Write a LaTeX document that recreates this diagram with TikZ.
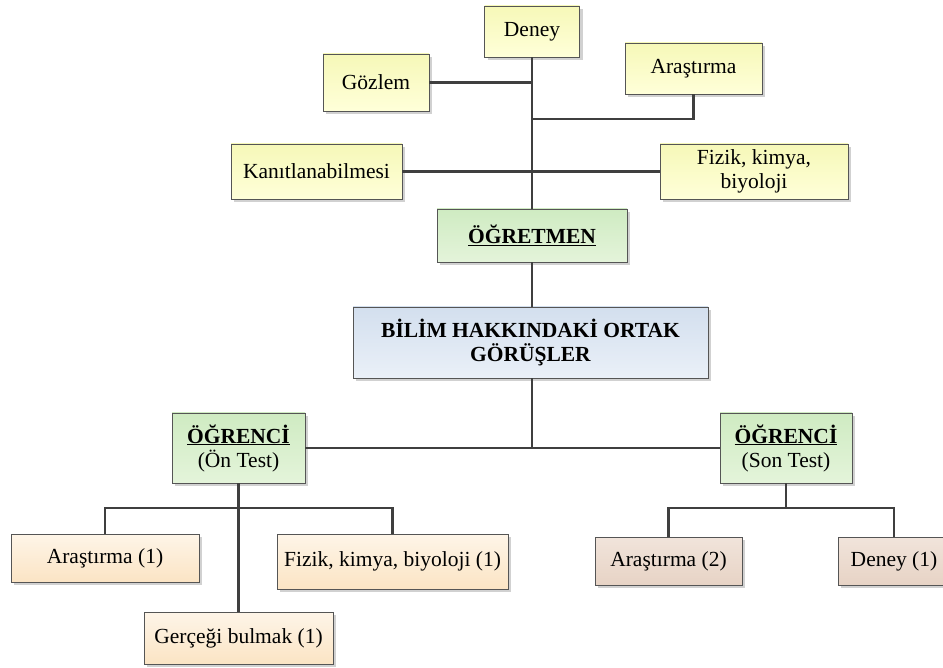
\documentclass[tikz,border=0pt]{standalone}
\usepackage{fontspec}
\setmainfont{Liberation Serif}
\usetikzlibrary{shadows}

\definecolor{linegray}{HTML}{3F3F3F}
\definecolor{boxborder}{HTML}{555555}
\definecolor{yelTop}{HTML}{F6F8B8}
\definecolor{yelBot}{HTML}{FFFFD9}
\definecolor{grnTop}{HTML}{CFEBC2}
\definecolor{grnBot}{HTML}{E4F4DA}
\definecolor{bluTop}{HTML}{D3DFEE}
\definecolor{bluBot}{HTML}{EAF0F8}
\definecolor{pchTop}{HTML}{FEF5E8}
\definecolor{pchBot}{HTML}{FBE4C4}
\definecolor{rosTop}{HTML}{F1E4DB}
\definecolor{rosBot}{HTML}{E7D3C5}

\tikzset{
  box/.style={draw=boxborder, line width=0.8pt, inner sep=0pt, align=center,
    font=\fontsize{21.5}{24}\selectfont,
    drop shadow={shadow xshift=3pt, shadow yshift=-3pt, fill=black, opacity=0.18}},
  yelbox/.style={box, top color=yelTop, bottom color=yelBot},
  grnbox/.style={box, top color=grnTop, bottom color=grnBot},
  blubox/.style={box, top color=bluTop, bottom color=bluBot},
  pchbox/.style={box, top color=pchTop, bottom color=pchBot},
  rosbox/.style={box, top color=rosTop, bottom color=rosBot},
  link/.style={draw=linegray, line width=2.6pt},
}

\begin{document}
\begin{tikzpicture}[x=1pt, y=-1pt]
  \useasboundingbox (0,0) rectangle (943,668);

  % teacher's views
  \node[yelbox, minimum width=95pt,  minimum height=51pt] (deney)     at (532,31.5)   {Deney};
  \node[yelbox, minimum width=106pt, minimum height=57pt] (gozlem)    at (376,82.5)   {Gözlem};
  \node[yelbox, minimum width=137pt, minimum height=51pt] (arastirma) at (693.5,68.5) {Araştırma};
  \node[yelbox, minimum width=171pt, minimum height=55pt] (kanit)     at (316.5,171.5){Kanıtlanabilmesi};
  \node[yelbox, minimum width=188pt, minimum height=55pt] (fizik)     at (754,171.5)  {Fizik, kimya,\\biyoloji};

  \node[grnbox, minimum width=190pt, minimum height=53pt] (ogretmen)  at (532,235.5)  {\underline{\textbf{ÖĞRETMEN}}};

  \node[blubox, minimum width=355pt, minimum height=71pt] (bilim)     at (530.5,342.5){\textbf{BİLİM HAKKINDAKİ ORTAK}\\\textbf{GÖRÜŞLER}};

  % students
  \node[grnbox, minimum width=133pt, minimum height=70pt] (onTest)    at (238.5,448)  {\underline{\textbf{ÖĞRENCİ}}\\(Ön Test)};
  \node[grnbox, minimum width=132pt, minimum height=70pt] (sonTest)   at (786,448)    {\underline{\textbf{ÖĞRENCİ}}\\(Son Test)};

  \node[pchbox, minimum width=188pt, minimum height=48pt] (ar1)       at (105,558)    {Araştırma (1)};
  \node[pchbox, minimum width=231pt, minimum height=55pt] (fiz1)      at (392.5,561.5){Fizik, kimya, biyoloji (1)};
  \node[pchbox, minimum width=189pt, minimum height=52pt] (gercek)    at (238.5,638)  {Gerçeği bulmak (1)};

  \node[rosbox, minimum width=147pt, minimum height=48pt] (ar2)       at (668.5,561)  {Araştırma (2)};
  \node[rosbox, minimum width=112pt, minimum height=48pt] (deney1)    at (894,561)    {Deney (1)};

  % junction points
  \coordinate (jA)   at (532,119);
  \coordinate (onJ)  at (238.5,508);
  \coordinate (sonJ) at (786,508);

  % connectors
  \draw[link] (deney.south) -- (ogretmen.north);
  \draw[link] (gozlem.east) -- (gozlem.east -| deney.south);
  \draw[link] (arastirma.south) |- (jA);
  \draw[link] (kanit.east) -- (fizik.west);
  \draw[link] (ogretmen.south) -- (ogretmen.south |- bilim.north);
  \draw[link] (bilim.south -| ogretmen.south) -- (ogretmen.south |- onTest.east);
  \draw[link] (onTest.east) -- (sonTest.west);
  \draw[link] (onTest.south) -- (gercek.north);
  \draw[link] (ar1.north) |- (onJ) -| (fiz1.north);
  \draw[link] (sonTest.south) -- (sonJ);
  \draw[link] (ar2.north) |- (sonJ) -| (deney1.north);
\end{tikzpicture}
\end{document}
